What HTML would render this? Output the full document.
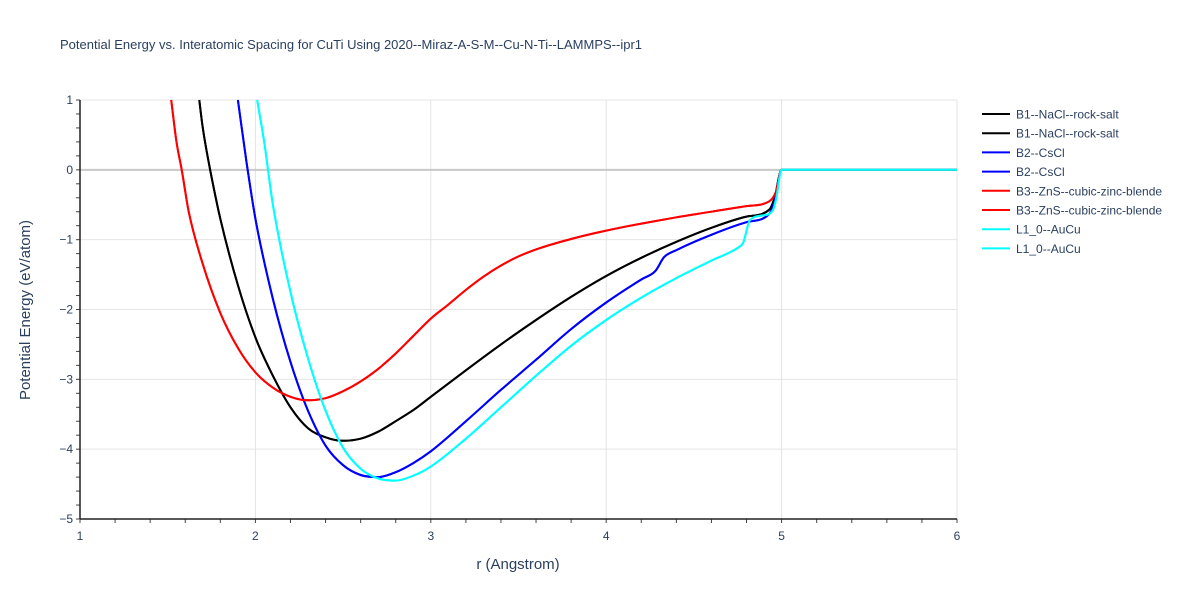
<!DOCTYPE html>
<html><head><meta charset="utf-8"><style>
body{margin:0;background:#fff;font-family:"Liberation Sans",Arial,sans-serif}
svg text{font-family:"Liberation Sans",Arial,sans-serif}
</style></head><body>
<svg id="chart" width="1200" height="600" xmlns="http://www.w3.org/2000/svg">
<rect width="1200" height="600" fill="#fff"/>
<text x="60" y="49" font-size="13" fill="#2a3f5f">Potential Energy vs. Interatomic Spacing for CuTi Using 2020--Miraz-A-S-M--Cu-N-Ti--LAMMPS--ipr1</text>
<g id="grid"></g><g id="series"></g><g id="axes"></g><g id="legend"></g>
<text x="518" y="569" font-size="15" fill="#2a3f5f" text-anchor="middle">r (Angstrom)</text>
<text transform="translate(30,310) rotate(-90)" font-size="15" fill="#2a3f5f" text-anchor="middle">Potential Energy (eV/atom)</text>
</svg>
<script>
const xTicks=[1,2,3,4,5,6];
const yTicks=[1,0,-1,-2,-3,-4,-5];
const seriesNames=["B1--NaCl--rock-salt","B2--CsCl","B3--ZnS--cubic-zinc-blende","L1_0--AuCu"];
const seriesColors=["#000000","#0000ff","#ff0000","#00ffff"];
const b1R=[1.68,1.7,1.75,1.8,1.9,2.0,2.1,2.2,2.3,2.4,2.5,2.6,2.7,2.8,2.9,3.0,3.2,3.4,3.6,3.8,4.0,4.2,4.4,4.6,4.8,4.93,4.96,5.0,6];
const b1E=[1,0.6,-0.1,-0.7,-1.65,-2.4,-2.95,-3.4,-3.7,-3.83,-3.88,-3.85,-3.75,-3.6,-3.44,-3.25,-2.87,-2.5,-2.15,-1.82,-1.52,-1.26,-1.03,-0.83,-0.67,-0.57,-0.4,0,0];
const b2R=[1.9,1.95,2.0,2.1,2.2,2.3,2.4,2.5,2.6,2.7,2.8,2.9,3.0,3.2,3.4,3.6,3.8,4.0,4.2,4.28,4.33,4.4,4.6,4.8,4.93,4.96,5.0,6];
const b2E=[1,0.1,-0.7,-1.85,-2.75,-3.45,-3.95,-4.23,-4.37,-4.4,-4.33,-4.2,-4.03,-3.6,-3.15,-2.72,-2.28,-1.9,-1.57,-1.45,-1.25,-1.15,-0.93,-0.75,-0.63,-0.45,0,0];
const b3R=[1.52,1.55,1.58,1.62,1.7,1.8,1.9,2.0,2.1,2.2,2.3,2.4,2.5,2.6,2.7,2.8,2.9,3.0,3.1,3.2,3.3,3.4,3.5,3.6,3.8,4.0,4.2,4.4,4.6,4.8,4.93,4.97,5.0,6];
const b3E=[1,0.4,0,-0.6,-1.35,-2.05,-2.55,-2.9,-3.12,-3.25,-3.3,-3.27,-3.17,-3.03,-2.85,-2.63,-2.38,-2.13,-1.93,-1.72,-1.53,-1.37,-1.24,-1.14,-0.99,-0.87,-0.77,-0.68,-0.6,-0.52,-0.45,-0.3,0,0];
const l10R=[2.01,2.05,2.1,2.2,2.3,2.4,2.5,2.6,2.7,2.8,2.9,3.0,3.2,3.4,3.6,3.8,4.0,4.2,4.4,4.6,4.76,4.78,4.82,4.9,4.95,4.97,5.0,6];
const l10E=[1,0.4,-0.5,-1.75,-2.7,-3.45,-3.98,-4.28,-4.42,-4.45,-4.38,-4.25,-3.85,-3.4,-2.95,-2.52,-2.15,-1.83,-1.55,-1.3,-1.1,-1.05,-0.72,-0.65,-0.58,-0.4,0,0];
const allR=[b1R,b2R,b3R,l10R], allE=[b1E,b2E,b3E,l10E];
const X0=80,X1=957,Y0=100,Y1=519;
const sx=r=>X0+(r-1)/(6-1)*(X1-X0);
const sy=e=>Y0+(1-e)/(1-(-5))*(Y1-Y0);
const NS="http://www.w3.org/2000/svg";
function mk(t,a,p){const el=document.createElementNS(NS,t);for(const k in a)el.setAttribute(k,a[k]);p.appendChild(el);return el;}
const grid=document.getElementById('grid'),axes=document.getElementById('axes'),ser=document.getElementById('series'),leg=document.getElementById('legend');
xTicks.forEach(t=>{
 if(t>1){const l=mk('line',{x1:sx(t),x2:sx(t),y1:Y0,y2:Y1,stroke:'#e4e4e4','stroke-width':1},grid);
 
 }
 const tx=mk('text',{x:sx(t),y:Y1+21,'font-size':12,fill:'#2a3f5f','text-anchor':'middle'},axes);tx.textContent=t;
 
 
});
for(let v=1;v<=6.001;v+=0.2){const m=mk('line',{x1:sx(v),x2:sx(v),y1:Y1,y2:Y1+4,stroke:'#444','stroke-width':1},axes);
 
 }
for(let v=-5;v<=1.001;v+=0.2){const m=mk('line',{x1:X0-4,x2:X0,y1:sy(v),y2:sy(v),stroke:'#444','stroke-width':1},axes);
 
 }
yTicks.forEach(t=>{
 const l=mk('line',{x1:X0,x2:X1,y1:sy(t),y2:sy(t),stroke:t===0?'#c8c8c8':'#e4e4e4','stroke-width':t===0?2:1},grid);
 
 
 const tx=mk('text',{x:X0-7,y:sy(t)+4,'font-size':12,fill:'#2a3f5f','text-anchor':'end'},axes);tx.textContent=(t<0?'\u2212'+(-t):t);
 
 
});
const ya=mk('line',{x1:X0,x2:X0,y1:Y0,y2:Y1,stroke:'#222','stroke-width':1.5},axes);


const xa=mk('line',{x1:X0,x2:X1,y1:Y1,y2:Y1,stroke:'#222','stroke-width':1.5},axes);


// monotone cubic (Fritsch-Carlson) in x
function smooth(P){
 const n=P.length,d=[],m=new Array(n);
 for(let i=0;i<n-1;i++)d.push((P[i+1][1]-P[i][1])/(P[i+1][0]-P[i][0]));
 m[0]=d[0];m[n-1]=d[n-2];
 for(let i=1;i<n-1;i++){m[i]=(d[i-1]*d[i]<=0)?0:(d[i-1]+d[i])/2;}
 for(let i=0;i<n-1;i++){
  if(d[i]===0){m[i]=0;m[i+1]=0;continue;}
  const a=m[i]/d[i],b=m[i+1]/d[i],s=a*a+b*b;
  if(s>9){const t=3/Math.sqrt(s);m[i]=t*a*d[i];m[i+1]=t*b*d[i];}
 }
 let path='M'+P[0][0].toFixed(1)+','+P[0][1].toFixed(1);
 for(let i=0;i<n-1;i++){
  const h=(P[i+1][0]-P[i][0])/3;
  path+=' C'+(P[i][0]+h).toFixed(1)+','+(P[i][1]+m[i]*h).toFixed(1)+' '+(P[i+1][0]-h).toFixed(1)+','+(P[i+1][1]-m[i+1]*h).toFixed(1)+' '+P[i+1][0].toFixed(1)+','+P[i+1][1].toFixed(1);
 }
 return path;
}
[0,1,2,3].forEach(i=>{
 for(let k=0;k<2;k++){
  const P=allR[i].map((r,j)=>[sx(r),sy(allE[i][j])]);
  const p=mk('path',{d:smooth(P),fill:'none',stroke:seriesColors[i],'stroke-width':2,'stroke-linejoin':'round'},ser);
  
  
 }
});
let row=0;
[0,1,2,3].forEach(i=>{for(let k=0;k<2;k++){
 const y=114+row*19.2;
 const g=mk('g',{},leg);
 
 
 mk('line',{x1:982,x2:1010,y1:y,y2:y,stroke:seriesColors[i],'stroke-width':2},g);
 const t=mk('text',{x:1016,y:y+4.5,'font-size':12,fill:'#2a3f5f'},g);t.textContent=seriesNames[i];
 row++;}});
</script>
</body></html>
